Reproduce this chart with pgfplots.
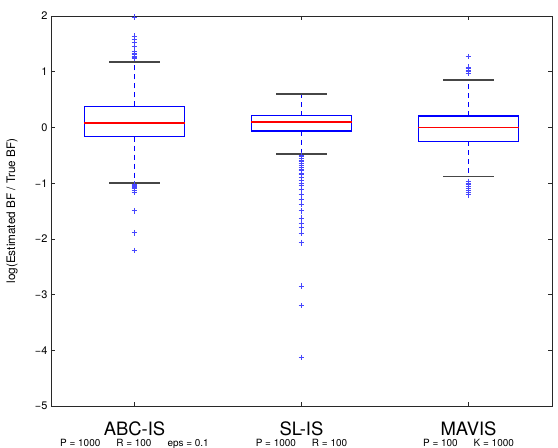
\documentclass[border=0pt]{standalone}
\usepackage{pgfplots}
\pgfplotsset{compat=1.18}
\usepackage{fontspec}
\setmainfont{TeX Gyre Heros}

\definecolor{outlierblue}{RGB}{70,70,255}
\definecolor{capgray}{RGB}{70,70,70}
\definecolor{framegray}{RGB}{40,40,40}

% stroke colours are given with draw= only
\pgfplotsset{
  whisk/.style={draw=blue, line width=1.2pt, dash pattern=on 5bp off 4bp, forget plot},
  wcap/.style={draw=capgray, line width=1.3pt, forget plot},
  qbox/.style={draw=blue, line width=1.4pt, forget plot},
  qmed/.style={draw=red, line width=1.4pt, forget plot},
  outl/.style={only marks, mark=+, mark size=2.8pt,
               mark options={draw=outlierblue, line width=1pt, solid}, forget plot},
}

\newcommand{\methodname}[1]{{\fontsize{18.5}{19}\selectfont #1}}
\newcommand{\methodpars}[1]{{\fontsize{10}{10.5}\selectfont #1}}

\begin{document}
\begin{tikzpicture}
\begin{axis}[
  scale only axis,
  width=501bp, height=390bp,
  xmin=0.5, xmax=3.5,
  ymin=-5, ymax=2,
  xtick={1,2,3},
  xticklabels={
    {\methodname{ABC-IS}\\[-1pt]\methodpars{P = 1000\hspace{16bp}R = 100\hspace{16bp}eps = 0.1}},
    {\methodname{SL-IS}\\[-1pt]\methodpars{P = 1000\hspace{16bp}R = 100}},
    {\methodname{MAVIS}\\[-1pt]\methodpars{P = 100\hspace{16bp}K = 1000}}
  },
  xticklabel style={align=center, text depth=0pt, yshift=-12bp},
  ytick={-5,-4,-3,-2,-1,0,1,2},
  yticklabels={−5,−4,−3,−2,−1,0,1,2},
  yticklabel style={font=\fontsize{11}{12}\selectfont},
  ylabel={log(Estimated BF / True BF)},
  ylabel style={font=\fontsize{11.8}{13}\selectfont, at={([xshift=-39bp]axis description cs:0,0.5)}, anchor=center},
  axis line style={draw=framegray, line width=0.9pt},
  tick style={draw=framegray, line width=0.6pt},
  major tick length=4bp,
  clip=false,
]
% ---------- ABC-IS (position 1) ----------
\addplot[whisk] coordinates {(1,0.379) (1,1.174)};
\addplot[whisk] coordinates {(1,-0.166) (1,-1.0)};
\addplot[wcap] coordinates {(0.85,1.174) (1.15,1.174)};
\addplot[wcap] coordinates {(0.85,-1.0) (1.15,-1.0)};
\addplot[qbox] coordinates {(0.7,-0.166) (1.3,-0.166) (1.3,0.379) (0.7,0.379) (0.7,-0.166)} -- cycle;
\addplot[qmed] coordinates {(0.7,0.079) (1.3,0.079)};
\addplot[outl] coordinates {
  (1,1.98) (1,1.64) (1,1.58) (1,1.52) (1,1.45) (1,1.37) (1,1.33) (1,1.30) (1,1.28) (1,1.26) (1,1.24)
  (1,-1.02) (1,-1.04) (1,-1.06) (1,-1.08) (1,-1.10) (1,-1.13) (1,-1.16) (1,-1.50) (1,-1.89) (1,-2.21)};
% ---------- SL-IS (position 2) ----------
\addplot[whisk] coordinates {(2,0.211) (2,0.600)};
\addplot[whisk] coordinates {(2,-0.064) (2,-0.477)};
\addplot[wcap] coordinates {(1.85,0.600) (2.15,0.600)};
\addplot[wcap] coordinates {(1.85,-0.477) (2.15,-0.477)};
\addplot[qbox] coordinates {(1.7,-0.064) (2.3,-0.064) (2.3,0.211) (1.7,0.211) (1.7,-0.064)} -- cycle;
\addplot[qmed] coordinates {(1.7,0.097) (2.3,0.097)};
\addplot[outl] coordinates {
  (2,-0.50) (2,-0.53) (2,-0.56) (2,-0.59) (2,-0.62) (2,-0.65) (2,-0.68) (2,-0.72) (2,-0.75) (2,-0.78)
  (2,-0.82) (2,-0.85) (2,-0.90) (2,-0.95) (2,-1.00) (2,-1.05) (2,-1.12) (2,-1.20) (2,-1.30) (2,-1.38)
  (2,-1.50) (2,-1.63) (2,-1.72) (2,-1.80) (2,-1.90) (2,-2.07) (2,-2.85) (2,-3.20) (2,-4.13)};
% ---------- MAVIS (position 3) ----------
\addplot[whisk] coordinates {(3,0.205) (3,0.851)};
\addplot[whisk] coordinates {(3,-0.249) (3,-0.884)};
\addplot[wcap] coordinates {(2.85,0.851) (3.15,0.851)};
\addplot[wcap] coordinates {(2.85,-0.884) (3.15,-0.884)};
\addplot[qbox] coordinates {(2.7,-0.249) (3.3,-0.249) (3.3,0.205) (2.7,0.205) (2.7,-0.249)} -- cycle;
\addplot[qmed] coordinates {(2.7,-0.005) (3.3,-0.005)};
\addplot[outl] coordinates {
  (3,1.27) (3,1.08) (3,1.05) (3,1.03) (3,1.00) (3,0.97)
  (3,-0.97) (3,-1.00) (3,-1.03) (3,-1.06) (3,-1.09) (3,-1.13) (3,-1.17) (3,-1.21)};
\end{axis}
\pgfresetboundingbox
\path ([xshift=-51bp,yshift=-42bp]current axis.south west)
  rectangle ([xshift=6bp,yshift=16bp]current axis.north east);
\end{tikzpicture}
\end{document}
